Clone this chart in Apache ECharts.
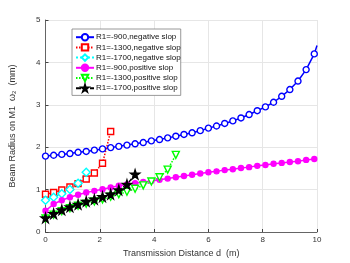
<!DOCTYPE html>
<html><head><meta charset="utf-8">
<script src="https://cdn.jsdelivr.net/npm/echarts@6/dist/echarts.min.js"></script>
<style>html,body{margin:0;padding:0;background:#fff}#c{width:350px;height:263px}</style>
</head><body><div id="c"></div>
<script>
const xTicks = [0, 2, 4, 6, 8, 10];
const yTicks = [0, 1, 2, 3, 4, 5];
const names = ['R1=-900,negative slop','R1=-1300,negative slop','R1=-1700,negative slop','R1=-900,positive slop','R1=-1300,positive slop','R1=-1700,positive slop'];

const xLong = [0,0.3,0.6,0.9,1.2,1.5,1.8,2.1,2.4,2.7,3.0,3.3,3.6,3.9,4.2,4.5,4.8,5.1,5.4,5.7,6.0,6.3,6.6,6.9,7.2,7.5,7.8,8.1,8.4,8.7,9.0,9.3,9.6,9.9];
const blueY = [1.79,1.81,1.83,1.85,1.88,1.90,1.93,1.96,1.99,2.02,2.05,2.08,2.11,2.15,2.18,2.22,2.26,2.30,2.34,2.39,2.45,2.50,2.56,2.62,2.69,2.77,2.86,2.95,3.06,3.20,3.36,3.56,3.83,4.20];
const blueEnd = [10, 4.40];
const magentaY = [0.50,0.66,0.75,0.82,0.88,0.93,0.97,1.01,1.05,1.09,1.12,1.15,1.18,1.20,1.23,1.26,1.29,1.32,1.35,1.38,1.41,1.43,1.46,1.48,1.51,1.53,1.56,1.58,1.61,1.63,1.65,1.67,1.70,1.72];
const magentaEnd = [10, 1.73];

const xRed = [0,0.3,0.6,0.9,1.2,1.5,1.8,2.1,2.4];
const redY = [0.89,0.93,0.99,1.06,1.14,1.25,1.39,1.62,2.37];

const xCyan = [0,0.3,0.6,0.9,1.2,1.5];
const cyanY = [0.75,0.82,0.90,1.00,1.15,1.41];

const xGreen = [0,0.3,0.6,0.9,1.2,1.5,1.8,2.1,2.4,2.7,3.0,3.3,3.6,3.9,4.2,4.5,4.8];
const greenY = [0.32,0.41,0.49,0.56,0.62,0.67,0.72,0.77,0.83,0.89,0.95,1.02,1.10,1.19,1.29,1.47,1.82];

const xBlack = [0,0.3,0.6,0.9,1.2,1.5,1.8,2.1,2.4,2.7,3.0,3.3];
const blackY = [0.33,0.43,0.52,0.59,0.65,0.72,0.77,0.83,0.89,0.99,1.12,1.36];

function pts(xs, ys, end) {
  const d = xs.map((x, i) => [x, ys[i]]);
  if (end) d.push({ value: end, symbol: 'none' });
  return d;
}

const font = 'Liberation Sans, Arial, sans-serif';
const chart = echarts.init(document.getElementById('c'), null, { renderer: 'canvas' });

function ser(name, data, color, symbol, size, fill, lineType) {
  return {
    name, type: 'line', data, symbol, symbolSize: size, showAllSymbol: true,
    lineStyle: { color, width: 1.5, type: lineType },
    itemStyle: { color: fill ? color : '#fff', borderColor: color, borderWidth: 1.4 },
    emphasis: { disabled: true }, animation: false, z: 3
  };
}

chart.setOption({
  animation: false,
  textStyle: { fontFamily: font },
  grid: { left: 45, right: 33, top: 20, bottom: 29 },
  legend: {
    orient: 'vertical', left: 72, top: 29, itemWidth: 18, itemHeight: 8, itemGap: 1.8,
    padding: [4, 0, 3, 3], borderColor: '#7f7f7f', borderWidth: 0.8, backgroundColor: '#fff',
    textStyle: { fontSize: 8, color: '#111', fontFamily: font, padding: [0, 0, 0, -3] },
    data: names
  },
  xAxis: {
    type: 'value', min: 0, max: 10, interval: 2,
    name: 'Transmission Distance d  (m)', nameLocation: 'middle', nameGap: 17,
    nameTextStyle: { fontSize: 9, color: '#333' },
    axisLine: { show: true, lineStyle: { color: '#444', width: 0.8 } },
    axisTick: { show: true, inside: true, length: 3, lineStyle: { color: '#444' } },
    axisLabel: { fontSize: 8, color: '#333', margin: 4, formatter: v => xTicks.includes(v) ? String(v) : '' },
    splitLine: { show: true, lineStyle: { color: '#e6e6e6', width: 1 } }
  },
  yAxis: {
    type: 'value', min: 0, max: 5, interval: 1,
    name: '{t|Beam Radius on M1  ω}{s|2}{t|  (mm)}', nameLocation: 'middle', nameGap: 28,
    nameTextStyle: { fontSize: 9, color: '#333',
      rich: { t: { fontSize: 9, color: '#333', fontFamily: font }, s: { fontSize: 6, color: '#333', verticalAlign: 'bottom', padding: [4, 0, 0, 0], fontFamily: font } } },
    axisLine: { show: true, lineStyle: { color: '#444', width: 0.8 } },
    axisTick: { show: true, inside: true, length: 3, lineStyle: { color: '#444' } },
    axisLabel: { fontSize: 8, color: '#333', margin: 5, formatter: v => yTicks.includes(v) ? String(v) : '' },
    splitLine: { show: true, lineStyle: { color: '#e6e6e6', width: 1 } }
  },
  series: [
    ser(names[0], pts(xLong, blueY, blueEnd), '#0000ff', 'circle', 6, false, 'solid'),
    ser(names[1], pts(xRed, redY), '#ff0000', 'rect', 6, false, [1.5, 1.5]),
    ser(names[2], pts(xCyan, cyanY), '#00ffff', 'diamond', 8, false, [2, 2]),
    ser(names[3], pts(xLong, magentaY, magentaEnd), '#ff00ff', 'circle', 5, true, 'solid'),
    ser(names[4], pts(xGreen, greenY), '#00ff00', 'path://M0,0 L10,0 L5,9 Z', 7, false, [1.5, 1.5]),
    ser(names[5], pts(xBlack, blackY), '#000000', 'path://M50,0 L61,35 L98,35 L68,57 L79,91 L50,70 L21,91 L32,57 L2,35 L39,35 Z', 9, true, [5, 2])
  ]
});
</script></body></html>
